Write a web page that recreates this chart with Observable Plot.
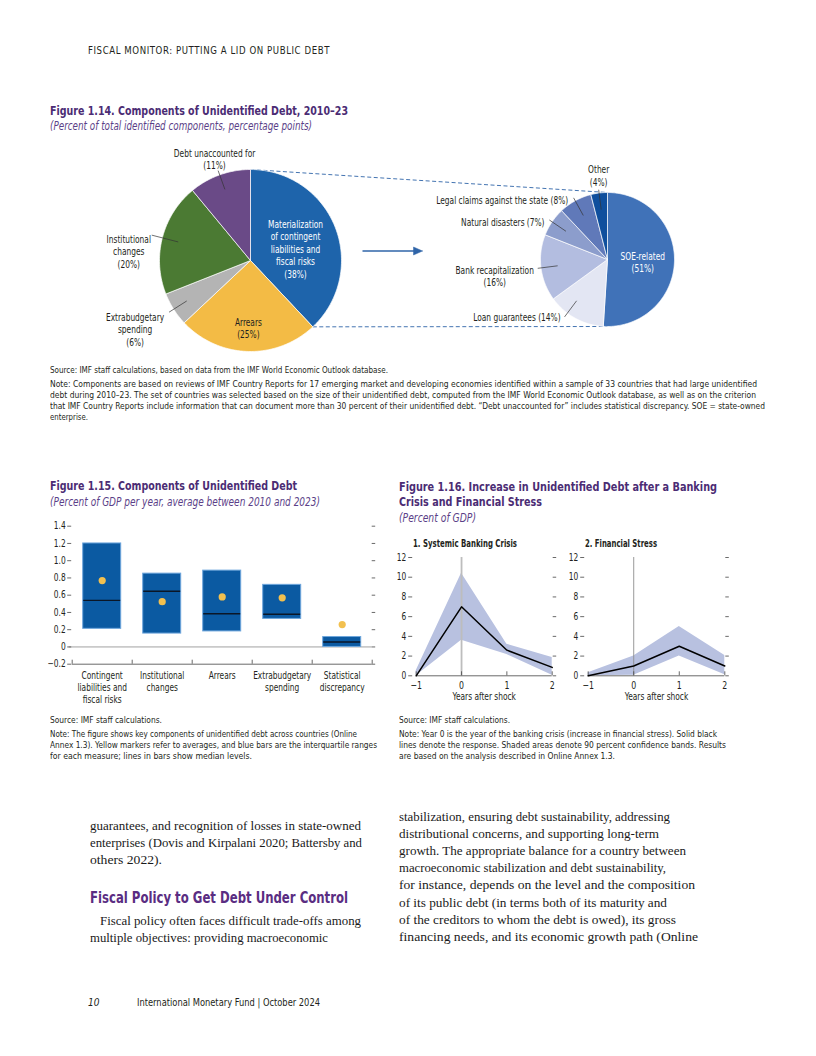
<!DOCTYPE html>
<html><head><meta charset="utf-8">
<script src="https://cdn.jsdelivr.net/npm/d3@7"></script>
<script src="https://cdn.jsdelivr.net/npm/@observablehq/plot@0.6"></script>
<style>
body{margin:0;background:#fff;}
#page{position:relative;width:816px;height:1056px;overflow:hidden;font-family:"Liberation Sans Narrow","DejaVu Sans Condensed",sans-serif;color:#231f20;}
.t{position:absolute;white-space:nowrap;transform-origin:0 50%;}
.hdr{font-size:10px;letter-spacing:0.6px;}
.title{font-weight:bold;color:#4b2c74;font-size:12.5px;}
.sub{font-style:italic;color:#5b3f88;font-size:11.5px;}
.ptitle{font-weight:bold;font-size:9.8px;}
.note{font-size:9px;}
.body{font-family:"Liberation Serif",serif;font-size:12.8px;color:#1a1a1a;}
.head{font-weight:bold;color:#5a2d82;font-size:16px;}
.foot{font-size:10px;}
</style></head><body><div id="page"></div>
<script>
// ---------------- DATA ----------------
// Figure 1.14 main pie (clockwise from 12 o'clock)
const pieNames = ["Materialization\nof contingent\nliabilities and\nfiscal risks", "Arrears", "Extrabudgetary\nspending", "Institutional\nchanges", "Debt unaccounted for"];
const pieValues = [38, 25, 6, 20, 11];
// Figure 1.14 breakdown pie of "Materialization of contingent liabilities"
const subNames = ["SOE-related", "Loan guarantees", "Bank recapitalization", "Natural disasters", "Legal claims against the state", "Other"];
const subValues = [51, 14, 16, 7, 8, 4];
const subSep = ["\n", " ", "\n", " ", " ", "\n"];

// Figure 1.15
const cats15 = ["Contingent\nliabilities and\nfiscal risks", "Institutional\nchanges", "Arrears", "Extrabudgetary\nspending", "Statistical\ndiscrepancy"];
const q1_15 = [0.21, 0.155, 0.18, 0.325, 0.0];
const q3_15 = [1.20, 0.85, 0.885, 0.72, 0.115];
const med15 = [0.54, 0.645, 0.385, 0.38, 0.058];
const mean15 = [0.77, 0.525, 0.58, 0.57, 0.26];
const yTicks15 = [-0.2, 0, 0.2, 0.4, 0.6, 0.8, 1.0, 1.2, 1.4];

// Figure 1.16
const years16 = [-1, 0, 1, 2];
const bankResp = [0, 7.0, 2.6, 0.85];
const bankLo = [0, 3.6, 2.15, 0.05];
const bankHi = [0.5, 10.4, 3.2, 1.85];
const stressResp = [0, 1.0, 3.0, 1.0];
const stressLo = [0, 0.05, 2.0, 0.1];
const stressHi = [0.3, 2.0, 5.0, 2.05];
const yTicks16 = [0, 2, 4, 6, 8, 10, 12];

// ---------------- STYLE / LAYOUT ----------------
const FONT = '"Liberation Sans Narrow","DejaVu Sans Condensed",sans-serif';
const INK = "#231f20";
const SQUEEZE = 0.83; // horizontal condensing of chart text
const FS = 10;        // chart text size
const pieColors = ["#1e64ab", "#f3bb45", "#b4b4b4", "#4b7a33", "#6a4a87"];
const subColors = ["#4072b8", "#e3e6f3", "#b3bde0", "#8c9dcc", "#6079b9", "#0f4f9d"];
const pieGeo = {cx: 250, cy: 260, r: 91};
const subGeo = {cx: 607, cy: 259, r: 67};
const pieLab = [
  {mode: "in", rc: 0.532, dy: 6, fill: "#fff", ta: "middle", la: "middle"},
  {mode: "in", rc: 0.74, dy: 0, fill: INK, ta: "middle", la: "middle"},
  {mode: "out", rIn: 0.83, rOut: 1.06, dx: -34, dy: -0.5, ta: "middle", la: "top"},
  {mode: "out", rIn: 0.82, rOut: 1.12, dx: -23, dy: -1.5, ta: "middle", la: "top"},
  {mode: "out", rIn: 0.83, rOut: 1.05, dx: -3.6, dy: -22.5, ta: "middle", la: "top"}
];
const subLab = [
  {mode: "in", rc: 0.527, dy: 1.2, fill: "#fff", ta: "middle", la: "middle"},
  {mode: "out", rIn: 0.77, rOut: 1.07, da: 8, dx: -4, dy: 0.5, ta: "end", la: "middle"},
  {mode: "out", rIn: 0.75, rOut: 1.05, dx: -43, dy: -3.6, ta: "middle", la: "top"},
  {mode: "out", rIn: 0.75, rOut: 1.05, dx: -4.8, dy: 2, ta: "end", la: "middle"},
  {mode: "out", rIn: 0.75, rOut: 1.05, dx: -5.4, dy: 2.6, ta: "end", la: "middle"},
  {mode: "out", rIn: 0.75, rOut: 1.05, dx: 0, dy: -25.5, ta: "middle", la: "top"}
];
const connColor = "#2f64a8";

const page = document.getElementById("page");
function addText(x, y, html, cls, w, style = "") {
  const d = document.createElement("div");
  d.className = "t " + cls;
  d.style.cssText = `left:${x}px;top:${y - 6}px;line-height:12px;` + style;
  d.innerHTML = html;
  page.appendChild(d);
  if (w) {
    const nat = d.getBoundingClientRect().width;
    if (nat > 0) d.style.transform = `scaleX(${w / nat})`;
  }
  return d;
}
function squeeze(svg, s) {
  svg.querySelectorAll("text").forEach(t => {
    const tr = t.getAttribute("transform");
    if (tr) t.setAttribute("transform", tr + ` scale(${s},1)`);
    else {
      const x = +t.getAttribute("x") || 0, y = +t.getAttribute("y") || 0;
      t.setAttribute("transform", `translate(${x},${y}) scale(${s},1) translate(${-x},${-y})`);
    }
  });
  return svg;
}
function place(svg, left, top) {
  squeeze(svg, SQUEEZE);
  const d = document.createElement("div");
  d.style.cssText = `position:absolute;left:${left}px;top:${top}px;`;
  d.appendChild(svg);
  page.appendChild(d);
}
const plotStyle = {fontFamily: FONT, fontSize: FS + "px", background: "transparent", overflow: "visible", color: INK};

// ---------------- PAGE TEXT ----------------
addText(88, 51, "FISCAL MONITOR: PUTTING A LID ON PUBLIC DEBT", "hdr", 242);
addText(50, 111, "Figure 1.14. Components of Unidentified Debt, 2010–23", "title", 298);
addText(50, 126, "(Percent of total identified components, percentage points)", "sub", 262);

// ---------------- FIGURE 1.14 ----------------
function polar(g, rr, a) { return {x: g.cx + rr * g.r * Math.sin(a), y: g.cy - rr * g.r * Math.cos(a)}; }
function buildPie(values, g, colors, key) {
  const arcs = d3.pie().sort(null).value(d => d)(values);
  const pts = [];
  arcs.forEach((a, i) => {
    const n = Math.max(2, Math.ceil((a.endAngle - a.startAngle) / (Math.PI / 180)));
    pts.push({k: key + i, c: colors[i], x: g.cx, y: g.cy});
    for (let j = 0; j <= n; j++) {
      const t = a.startAngle + (a.endAngle - a.startAngle) * j / n;
      pts.push({k: key + i, c: colors[i], ...polar(g, 1, t)});
    }
    pts.push({k: key + i, c: colors[i], x: g.cx, y: g.cy});
  });
  return {arcs, pts};
}
const P1 = buildPie(pieValues, pieGeo, pieColors, "a");
const P2 = buildPie(subValues, subGeo, subColors, "b");

function labelMarks(arcs, names, values, seps, lab, g) {
  const marks = [], leaders = [];
  arcs.forEach((a, i) => {
    const L = lab[i];
    const mid = (a.startAngle + a.endAngle) / 2 + (L.da || 0) * Math.PI / 180;
    const text = names[i] + (seps ? seps[i] : "\n") + "(" + values[i] + "%)";
    let p;
    if (L.mode === "in") {
      p = polar(g, L.rc, mid);
    } else {
      const p0 = polar(g, L.rIn, mid), p1 = polar(g, L.rOut, mid);
      leaders.push({x1: p0.x, y1: p0.y, x2: p1.x, y2: p1.y});
      p = p1;
    }
    marks.push(Plot.text([{x: p.x, y: p.y, t: text}], {
      x: "x", y: "y", text: "t", dx: L.dx || 0, dy: L.dy || 0,
      textAnchor: L.ta, lineAnchor: L.la, fill: L.fill || INK, fontSize: FS, lineHeight: 1.25
    }));
  });
  marks.push(Plot.link(leaders, {x1: "x1", y1: "y1", x2: "x2", y2: "y2", stroke: "#333", strokeWidth: 0.7}));
  return marks;
}

const a0 = P1.arcs[0];
const conn = [
  {x1: polar(pieGeo, 1, a0.startAngle).x, y1: polar(pieGeo, 1, a0.startAngle).y, x2: subGeo.cx, y2: subGeo.cy - subGeo.r},
  {x1: polar(pieGeo, 1, a0.endAngle).x, y1: polar(pieGeo, 1, a0.endAngle).y, x2: subGeo.cx, y2: subGeo.cy + subGeo.r}
];
const arrowY = pieGeo.cy - 9.5;
const arrowX1 = pieGeo.cx + pieGeo.r + 21, arrowX2 = subGeo.cx - subGeo.r - 118;
const arrowLine = [{x1: arrowX1, y1: arrowY, x2: arrowX2 - 7, y2: arrowY}];
const arrowHead = [{x: arrowX2, y: arrowY}, {x: arrowX2 - 9, y: arrowY - 4}, {x: arrowX2 - 9, y: arrowY + 4}, {x: arrowX2, y: arrowY}];

const fig14 = Plot.plot({
  width: 816, height: 230, margin: 0,
  x: {domain: [0, 816], range: [0, 816], axis: null},
  y: {domain: [130, 360], range: [0, 230], axis: null},
  color: {type: "identity"},
  style: plotStyle,
  marks: [
    Plot.link(conn, {x1: "x1", y1: "y1", x2: "x2", y2: "y2", stroke: connColor, strokeWidth: 0.9, strokeDasharray: "4,2.5"}),
    Plot.line(P1.pts, {x: "x", y: "y", z: "k", fill: "c", stroke: "#fff", strokeWidth: 0.7, curve: "linear"}),
    Plot.line(P2.pts, {x: "x", y: "y", z: "k", fill: "c", stroke: "#fff", strokeWidth: 0.7, curve: "linear"}),
    ...labelMarks(P1.arcs, pieNames, pieValues, null, pieLab, pieGeo),
    ...labelMarks(P2.arcs, subNames, subValues, subSep, subLab, subGeo),
    Plot.link(arrowLine, {x1: "x1", y1: "y1", x2: "x2", y2: "y2", stroke: connColor, strokeWidth: 1.6}),
    Plot.line(arrowHead, {x: "x", y: "y", fill: connColor, stroke: connColor, strokeWidth: 0.5})
  ]
});
place(fig14, 0, 130);

addText(50, 370, "Source: IMF staff calculations, based on data from the IMF World Economic Outlook database.", "note", 338);
addText(50, 384, "Note: Components are based on reviews of IMF Country Reports for 17 emerging market and developing economies identified within a sample of 33 countries that had large unidentified", "note", 707);
addText(50, 395, "debt during 2010–23. The set of countries was selected based on the size of their unidentified debt, computed from the IMF World Economic Outlook database, as well as on the criterion", "note", 706);
addText(50, 406, "that IMF Country Reports include information that can document more than 30 percent of their unidentified debt. “Debt unaccounted for” includes statistical discrepancy. SOE = state-owned", "note", 715);
addText(50, 417, "enterprise.", "note", 38);

// ---------------- FIGURE 1.15 ----------------
addText(50, 486, "Figure 1.15. Components of Unidentified Debt", "title", 247);
addText(50, 502, "(Percent of GDP per year, average between 2010 and 2023)", "sub", 270);

const idx15 = d3.range(cats15.length);
const fmt15 = d => d === 0 ? "0" : (d < 0 ? "−" : "") + Math.abs(d).toFixed(1);
const fig15 = Plot.plot({
  width: 330, height: 195, marginLeft: 21.7, marginRight: 8.3, marginTop: 10.7, marginBottom: 46.3,
  x: {domain: [0, cats15.length], axis: null},
  y: {domain: [-0.2, 1.4], axis: null},
  style: plotStyle,
  marks: [
    Plot.ruleY([0], {x1: 0, x2: cats15.length, insetLeft: -3, stroke: "#8a8a8a", strokeWidth: 0.8}),
    Plot.rect(idx15, {x1: i => i, x2: i => i + 1, y1: i => q1_15[i], y2: i => q3_15[i], insetLeft: 11, insetRight: 11, fill: "#0b5aa2", stroke: "#6ea6dc", strokeWidth: 1}),
    Plot.ruleY(idx15, {x1: i => i, x2: i => i + 1, y: i => med15[i], insetLeft: 11.5, insetRight: 11.5, stroke: "#0b1626", strokeWidth: 1.4}),
    Plot.dot(idx15, {x: i => i + 0.5, y: i => mean15[i], r: 3.6, fill: "#f2c04f", stroke: "none"}),
    Plot.ruleY([-0.2], {x1: 0, x2: cats15.length, stroke: "#444", strokeWidth: 0.8}),
    Plot.ruleX(d3.range(cats15.length + 1), {y1: -0.2, y2: -0.2, insetTop: -4, stroke: "#444", strokeWidth: 0.8}),
    Plot.ruleY(yTicks15, {x1: 0, x2: 0, insetLeft: -4.5, insetRight: 0.5, stroke: "#444", strokeWidth: 0.8}),
    Plot.ruleY(yTicks15, {x1: cats15.length, x2: cats15.length, insetLeft: 0, insetRight: -3.5, stroke: "#444", strokeWidth: 0.8}),
    Plot.text(yTicks15, {x: 0, y: d => d, text: fmt15, textAnchor: "end", dx: -6.5, fontSize: FS}),
    Plot.text(idx15, {x: i => i + 0.5, y: -0.2, text: i => cats15[i], lineAnchor: "top", dy: 6.5, fontSize: FS, lineHeight: 1.18})
  ]
});
place(fig15, 50, 515);

addText(50, 720, "Source: IMF staff calculations.", "note", 112);
addText(50, 734, "Note: The figure shows key components of unidentified debt across countries (Online", "note", 307);
addText(50, 745, "Annex 1.3). Yellow markers refer to averages, and blue bars are the interquartile ranges", "note", 327);
addText(50, 756, "for each measure; lines in bars show median levels.", "note", 202);

// ---------------- FIGURE 1.16 ----------------
addText(399, 487, "Figure 1.16. Increase in Unidentified Debt after a Banking", "title", 318);
addText(399, 502, "Crisis and Financial Stress", "title", 143);
addText(399, 518, "(Percent of GDP)", "sub", 77);
addText(413, 544, "1. Systemic Banking Crisis", "ptitle", 104);
addText(585, 544, "2. Financial Stress", "ptitle", 72);

const fmtX = d => (d < 0 ? "−" : "") + Math.abs(d);
function panel(resp, lo, hi, vline, mr) {
  const idx = d3.range(years16.length);
  return Plot.plot({
    width: 167, height: 156, marginLeft: 16.7, marginRight: mr, marginTop: 7, marginBottom: 30.7,
    x: {domain: [-1, 2], axis: null},
    y: {domain: [0, 12], axis: null},
    style: plotStyle,
    marks: [
      Plot.areaY(idx, {x: i => years16[i], y1: i => lo[i], y2: i => hi[i], fill: "#b8c1e0", curve: "linear"}),
      Plot.ruleX([0], {y1: 0, y2: 12, stroke: vline.c, strokeWidth: vline.w}),
      Plot.ruleY([0], {x1: -1, x2: 2, stroke: "#444", strokeWidth: 0.8}),
      Plot.ruleX(years16, {y1: 0, y2: 0, insetTop: -4, stroke: "#444", strokeWidth: 0.8}),
      Plot.line(idx, {x: i => years16[i], y: i => resp[i], stroke: "#000", strokeWidth: 1.5}),
      Plot.ruleY(yTicks16, {x1: -1, x2: -1, insetLeft: -7.5, insetRight: 3.5, stroke: "#444", strokeWidth: 0.8}),
      Plot.ruleY(yTicks16, {x1: 2, x2: 2, insetLeft: 1, insetRight: -4.5, stroke: "#444", strokeWidth: 0.8}),
      Plot.text(yTicks16, {x: -1, y: d => d, text: d => String(d), textAnchor: "end", dx: -10, fontSize: FS}),
      Plot.text(years16, {x: d => d, y: 0, text: fmtX, lineAnchor: "top", dy: 5.5, fontSize: 10.5}),
      Plot.text(["Years after shock"], {x: 0.5, y: 0, text: d => d, lineAnchor: "top", dy: 17.5, fontSize: FS})
    ]
  });
}
place(panel(bankResp, bankLo, bankHi, {c: "#bdbdbd", w: 1.8}, 14.3), 399, 550);
place(panel(stressResp, stressLo, stressHi, {c: "#8c8c8c", w: 0.9}, 13.7), 571, 550);

addText(399, 720, "Source: IMF staff calculations.", "note", 111);
addText(399, 734, "Note: Year 0 is the year of the banking crisis (increase in financial stress). Solid black", "note", 318);
addText(399, 745, "lines denote the response. Shaded areas denote 90 percent confidence bands. Results", "note", 327);
addText(399, 756, "are based on the analysis described in Online Annex 1.3.", "note", 216);

// ---------------- BODY TEXT ----------------
addText(90, 826, "guarantees, and recognition of losses in state-owned", "body", 271);
addText(90, 843, "enterprises (Dovis and Kirpalani 2020; Battersby and", "body", 272);
addText(90, 860, "others 2022).", "body", 72);
addText(90, 898, "Fiscal Policy to Get Debt Under Control", "head", 258);
addText(100, 921, "Fiscal policy often faces difficult trade-offs among", "body", 261);
addText(90, 938, "multiple objectives: providing macroeconomic", "body", 238);

const rightCol = [
  "stabilization, ensuring debt sustainability, addressing",
  "distributional concerns, and supporting long-term",
  "growth. The appropriate balance for a country between",
  "macroeconomic stabilization and debt sustainability,",
  "for instance, depends on the level and the composition",
  "of its public debt (in terms both of its maturity and",
  "of the creditors to whom the debt is owed), its gross",
  "financing needs, and its economic growth path (Online"
];
const rightW = [271, 260, 287, 267, 296, 268, 277, 299];
rightCol.forEach((s, i) => addText(399, 817 + i * 17.1, s, "body", rightW[i]));

addText(88, 1003, "<i>10</i>", "foot");
addText(137, 1003, "International Monetary Fund | October 2024", "foot", 183);
</script></body></html>
